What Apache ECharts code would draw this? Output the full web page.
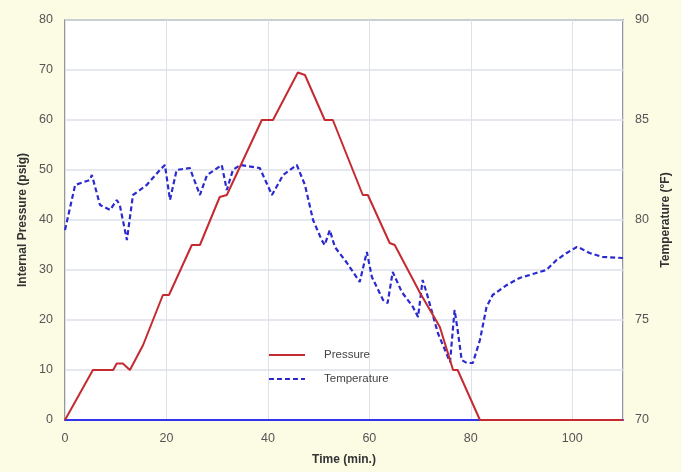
<!DOCTYPE html>
<html>
<head>
<meta charset="utf-8">
<script src="https://cdn.jsdelivr.net/npm/echarts@6/dist/echarts.min.js"></script>
<style>
  html, body { margin: 0; padding: 0; background: #fcfbe4; }
  #chart { width: 681px; height: 472px; }
</style>
</head>
<body>
<div id="chart"></div>
<script>
// pressure (psig) against time (min.)
var pressureTime = [0, 5.5, 9.5, 10.2, 11.4, 12.8, 15.4, 19.3, 20.5, 25, 26.6, 30.5, 31.9, 38.8, 41, 45.9, 47.3, 51.2, 52.8, 58.7, 59.7, 64, 65, 70, 73.9, 76.5, 77.4, 81.8, 110];
var pressureValues = [0, 10, 10, 11.3, 11.3, 10, 15, 25, 25, 35, 35, 44.6, 45, 60, 60, 69.5, 69, 60, 60, 45, 45, 35.4, 35, 25.4, 18.6, 10, 10, 0, 0];

// temperature (°F) against time (min.)
var tempTime = [0, 2, 4.9, 5.3, 6.9, 8.9, 10.2, 10.8, 12.2, 13.4, 16.1, 18.7, 19.7, 20.7, 22, 24.6, 26.6, 28, 30.9, 31.9, 33.1, 34.5, 38.4, 40.8, 43, 45.7, 47.3, 48.9, 50.6, 51.2, 52.2, 53.2, 55.6, 58.1, 59.5, 60.5, 62.7, 63.6, 64.6, 66.4, 68.6, 69.6, 70.5, 71.3, 73.5, 75.9, 76.8, 77.4, 78.2, 79.2, 80.4, 81.8, 83.1, 84.3, 87.1, 89.6, 92.9, 94.9, 96.9, 98.9, 100.9, 101.5, 103.4, 106, 110];
var tempValues = [79.5, 81.75, 82, 82.25, 80.75, 80.5, 81, 80.75, 79, 81.25, 81.75, 82.5, 82.75, 81, 82.5, 82.6, 81.25, 82.25, 82.75, 81.5, 82.5, 82.75, 82.6, 81.25, 82.25, 82.75, 81.75, 80, 79, 78.75, 79.5, 78.65, 77.85, 76.9, 78.4, 77.15, 76, 75.85, 77.4, 76.4, 75.65, 75.15, 77, 76.35, 74.35, 72.9, 75.5, 74.5, 73, 72.85, 72.85, 74, 75.65, 76.25, 76.75, 77.1, 77.35, 77.5, 78, 78.35, 78.65, 78.6, 78.35, 78.15, 78.1];

var pressureData = pressureTime.map(function (t, i) { return [t, pressureValues[i]]; });
var tempData = tempTime.map(function (t, i) { return [t, tempValues[i]]; });

var myChart = echarts.init(document.getElementById('chart'));
var labelStyle = { color: '#555', fontSize: 12.5, fontFamily: 'Liberation Sans, Arial, sans-serif' };
var nameStyle = { color: '#333', fontSize: 12, fontWeight: 'bold', fontFamily: 'Liberation Sans, Arial, sans-serif' };

var option = {
  backgroundColor: '#fcfbe4',
  animation: false,
  grid: {
    left: 65, right: 58, top: 20, bottom: 52,
    show: true,
    backgroundColor: '#fff',
    borderColor: '#777',
    borderWidth: 1.5
  },
  legend: {
    orient: 'vertical',
    left: 263,
    top: 344,
    itemWidth: 36,
    itemHeight: 12,
    itemGap: 12,
    itemStyle: { opacity: 0 },
    textStyle: { color: '#444', fontSize: 11.5, padding: [0, 0, 0, 14], fontFamily: 'Liberation Sans, Arial, sans-serif' },
    data: ['Pressure', 'Temperature']
  },
  xAxis: {
    type: 'value',
    min: 0, max: 110, interval: 20,
    name: 'Time (min.)',
    nameLocation: 'middle',
    nameGap: 34,
    nameTextStyle: nameStyle,
    axisLine: { lineStyle: { color: '#3333ee', width: 2 } },
    axisTick: { show: false },
    axisLabel: Object.assign({ margin: 12, showMaxLabel: false }, labelStyle),
    splitLine: { lineStyle: { color: '#dde1ea', width: 1 } }
  },
  yAxis: [
    {
      type: 'value',
      min: 0, max: 80, interval: 10,
      name: 'Internal Pressure (psig)',
      nameLocation: 'middle',
      nameRotate: 90,
      nameGap: 36,
      nameTextStyle: nameStyle,
      axisLine: { show: false },
      axisTick: { show: false },
      axisLabel: Object.assign({ margin: 12 }, labelStyle),
      splitLine: { lineStyle: { color: '#dde1ea', width: 1.5 } }
    },
    {
      type: 'value',
      min: 70, max: 90, interval: 5,
      name: 'Temperature (°F)',
      nameLocation: 'middle',
      nameRotate: 90,
      nameGap: 36,
      nameTextStyle: nameStyle,
      axisLine: { show: false },
      axisTick: { show: false },
      axisLabel: Object.assign({ margin: 12 }, labelStyle),
      splitLine: { show: false }
    }
  ],
  series: [
    {
      name: 'Temperature',
      type: 'line',
      yAxisIndex: 1,
      data: tempData,
      symbol: 'none',
      color: '#2a2ad0',
      lineStyle: { color: '#2a2ad0', width: 2.2, type: [5, 3] },
      z: 3
    },
    {
      name: 'Pressure',
      type: 'line',
      yAxisIndex: 0,
      data: pressureData,
      symbol: 'none',
      color: '#c42a30',
      lineStyle: { color: '#c42a30', width: 2 },
      z: 4
    }
  ]
};
myChart.setOption(option);
</script>
</body>
</html>
